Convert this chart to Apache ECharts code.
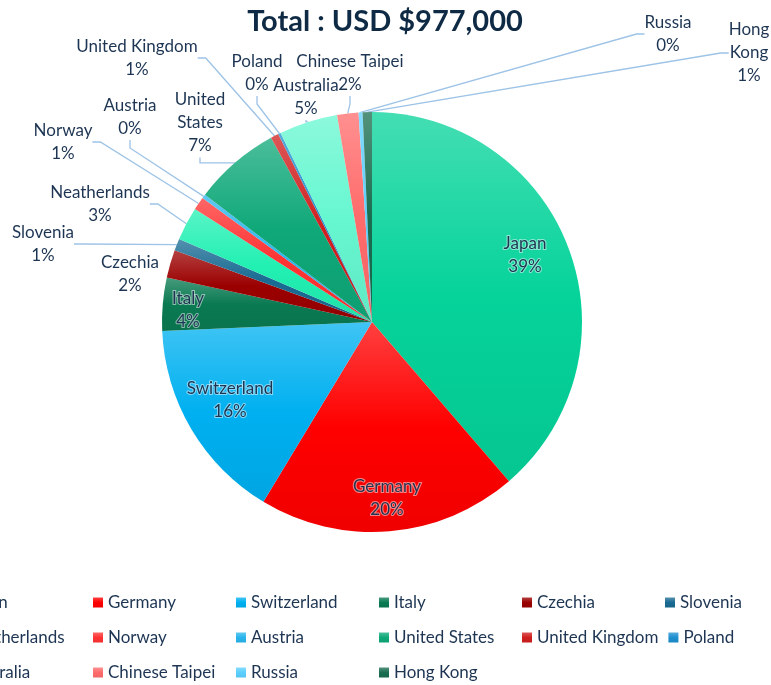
<!DOCTYPE html>
<html>
<head>
<meta charset="utf-8">
<script src="https://cdn.jsdelivr.net/npm/echarts@6/dist/echarts.min.js"></script>
<style>html,body{margin:0;padding:0;background:#fff}#c{width:771px;height:685px}</style>
</head>
<body>
<div id="c"></div>
<script>
// ---- data (USD thousands) ----
var categories = ['Japan','Germany','Switzerland','Italy','Czechia','Slovenia','Neatherlands','Norway','Austria','United States','United Kingdom','Poland','Australia','Chinese Taipei','Russia','Hong Kong'];
var values = [378, 195, 153, 40, 21, 9, 25, 10, 3, 65, 6, 2, 44, 16, 3, 7];
var titleText = 'Total : USD $977,000';

// ---- styles ----
var baseColors = ['#05d39a','#ff0000','#00b0f0','#0a7a52','#9b0000','#1a6b93','#22f0b3','#ff3333','#29b5ec','#0fa878','#d01f1f','#1e8fcf','#66f7d0','#ff6b6b','#5bcfff','#1a6d50'];
var insideSet = {'Japan':1,'Germany':1,'Switzerland':1,'Italy':1};
// label centre positions (layout only)
var labelPos = {
  'Japan':[525,255],'Germany':[387,498],'Switzerland':[230,400],'Italy':[188,310],
  'Czechia':[130,274],'Slovenia':[43,244],'Neatherlands':[100,204],'Norway':[63,142],
  'Austria':[130,117],'United States':[200,123],'United Kingdom':[137,58],'Poland':[257,73],
  'Australia':[306,97],'Chinese Taipei':[350,73],'Russia':[668,34],'Hong Kong':[749,53]
};
var labelText = {'United States':'United\nStates','Hong Kong':'Hong\nKong'};

function mix(hex, t, target) {
  var r=parseInt(hex.substr(1,2),16), g=parseInt(hex.substr(3,2),16), b=parseInt(hex.substr(5,2),16);
  r=Math.round(r+(target-r)*t); g=Math.round(g+(target-g)*t); b=Math.round(b+(target-b)*t);
  return 'rgb('+r+','+g+','+b+')';
}
var total = values.reduce(function(a,b){return a+b;},0);
var FONT = 'Lato, "Noto Sans", sans-serif';
var TXT = '#1d3553';

var data = categories.map(function(name,i){
  var c = baseColors[i];
  var inside = !!insideSet[name];
  return {
    name: name,
    value: values[i],
    itemStyle: {
      color: new echarts.graphic.LinearGradient(0,0,0,1,[
        {offset:0,color:mix(c,0.25,255)},
        {offset:0.5,color:c},
        {offset:1,color:mix(c,0.06,0)}
      ])
    },
    label: inside ? {
      position:'inside', color: TXT,
      textBorderColor:'rgba(255,255,255,0.5)', textBorderWidth:2
    } : { position:'outside' },
    labelLine: { show: !inside && name !== 'Czechia' }
  };
});

var chart = echarts.init(document.getElementById('c'), null, {renderer:'canvas'});
chart.setOption({
  animation:false,
  color: baseColors,
  title: {
    text: titleText, left: 380, top: 2, textAlign:'center',
    textStyle:{fontFamily:FONT, fontWeight:'bold', fontSize:29, color:'#0f2a44'}
  },
  legend: {
    data: categories,
    left: -50, top: 590, width: 860, padding: 0,
    orient:'horizontal', itemWidth: 10, itemHeight: 10, itemGap: 10,
    icon:'rect',
    textStyle:{fontFamily:FONT, fontSize:17, color:TXT, width:118, height:25, lineHeight:25, padding:[0,0,0,0]}
  },
  series: [{
    type:'pie',
    center:[372,322], radius:[0,210],
    startAngle:90, clockwise:true,
    avoidLabelOverlap:false,
    data: data,
    label: {
      fontFamily:FONT, fontSize:17, color:TXT, lineHeight:23, align:'center',
      formatter:function(p){
        var n = labelText[p.name] || p.name;
        return n + '\n' + Math.round(p.value/total*100) + '%';
      }
    },
    labelLine: { length:10, length2:8, smooth:false, lineStyle:{color:'#9dc3e6', width:1.3} },
    labelLayout: function(p){
      var name = categories[p.dataIndex];
      var pos = labelPos[name];
      return { x: pos[0], y: pos[1], align:'center', verticalAlign:'middle' };
    },
    emphasis:{disabled:true}
  }]
});
</script>
</body>
</html>
